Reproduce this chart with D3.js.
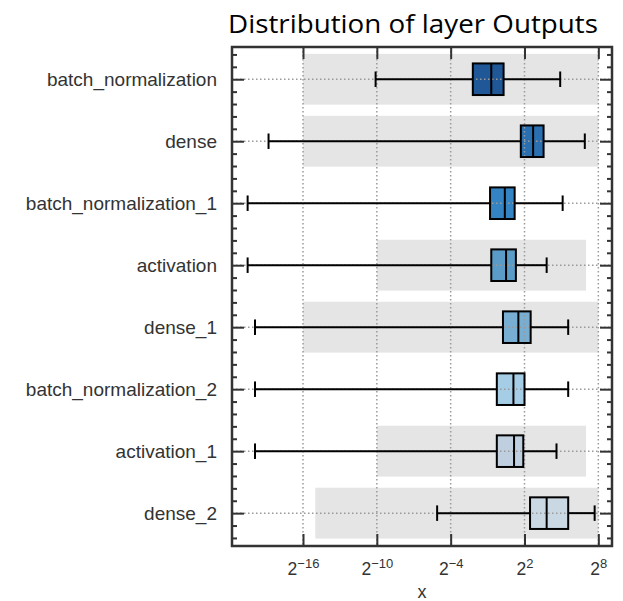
<!DOCTYPE html>
<html>
<head>
<meta charset="utf-8">
<script src="https://cdn.jsdelivr.net/npm/d3@7"></script>
<style>
  body { margin: 0; background: #fff; }
  svg { display: block; }
</style>
</head>
<body>
<div id="chart"></div>
<script>
// layer names, top to bottom
var layers = ["batch_normalization", "dense", "batch_normalization_1", "activation",
              "dense_1", "batch_normalization_2", "activation_1", "dense_2"];

// box stats as log2 exponents
var whiskerLo = [-10.1, -18.8, -20.5, -20.5, -19.9, -19.9, -19.9, -5.1];
var q1        = [-2.2,   1.7,  -0.8,  -0.7,   0.25, -0.25, -0.25,  2.45];
var median    = [-0.7,   2.7,   0.4,   0.5,   1.5,   1.1,   1.15,  3.8];
var q3        = [ 0.3,   3.55,  1.2,   1.3,   2.5,   2.0,   1.9,   5.55];
var whiskerHi = [ 4.9,   6.9,   5.1,   3.8,   5.55,  5.55,  4.6,   7.7];

// grey range band behind each row (log2 exponents), null = none
var bandLo = [-16, -16, null, -10, -16, null, -10, -15];
var bandHi = [  8,   8, null,   7,   8, null,   7,   8];

var boxColors = ["#1f5797", "#2a6fb0", "#3484c4", "#5a9bc8",
                 "#78aed1", "#a5cde6", "#bfcfe0", "#cad8e4"];

var tickExps = [-16, -10, -4, 2, 8];

function render_chart() {
  var width = 623, height = 601;
  var pl = 232, pr = 612, pt = 47, pb = 546;

  var svg = d3.select("#chart").append("svg")
      .attr("width", width)
      .attr("height", height)
      .style("font-family", "'Liberation Sans', Arial, sans-serif");

  var p2 = function(e) { return Math.pow(2, e); };

  var x = d3.scaleLog().base(2)
      .domain([p2(-21.77), p2(9.11)])
      .range([pl, pr]);

  var y = d3.scaleLinear()
      .domain([-0.52, 7.53])
      .range([pt, pb]);

  // title
  svg.append("text")
      .attr("x", 413)
      .attr("y", 33)
      .attr("text-anchor", "middle")
      .attr("textLength", 370)
      .attr("lengthAdjust", "spacingAndGlyphs")
      .style("font-family", "'Open Sans', 'Noto Sans', sans-serif")
      .style("font-size", "25px")
      .style("fill", "#000")
      .text("Distribution of layer Outputs");

  var g = svg.append("g");

  // grey bands
  g.append("g").selectAll("rect")
    .data(d3.range(layers.length).filter(function(i) { return bandLo[i] !== null; }))
    .enter().append("rect")
      .attr("x", function(i) { return x(p2(bandLo[i])); })
      .attr("width", function(i) { return x(p2(bandHi[i])) - x(p2(bandLo[i])); })
      .attr("y", function(i) { return y(i - 0.41); })
      .attr("height", y(0.41) - y(-0.41))
      .attr("fill", "#e5e5e5");

  // box fills
  g.append("g").selectAll("rect")
    .data(d3.range(layers.length))
    .enter().append("rect")
      .attr("x", function(i) { return x(p2(q1[i])); })
      .attr("width", function(i) { return x(p2(q3[i])) - x(p2(q1[i])); })
      .attr("y", function(i) { return y(i - 0.255); })
      .attr("height", y(0.255) - y(-0.255))
      .attr("fill", function(i) { return boxColors[i]; });

  // dotted grid
  var grid = g.append("g")
      .attr("stroke", "#9a9a9a")
      .attr("stroke-width", 1.5)
      .attr("stroke-dasharray", "1.5,2.5");
  grid.selectAll(".gx").data(tickExps).enter().append("line")
      .attr("x1", function(e) { return x(p2(e)); })
      .attr("x2", function(e) { return x(p2(e)); })
      .attr("y1", pt).attr("y2", pb);
  grid.selectAll(".gy").data(d3.range(layers.length)).enter().append("line")
      .attr("x1", pl).attr("x2", pr)
      .attr("y1", function(i) { return y(i); })
      .attr("y2", function(i) { return y(i); });

  // whiskers
  var wg = g.append("g").attr("stroke", "#000").attr("stroke-width", 2);
  layers.forEach(function(name, i) {
    var cy = y(i);
    wg.append("line")
      .attr("x1", x(p2(whiskerLo[i]))).attr("x2", x(p2(q1[i])))
      .attr("y1", cy).attr("y2", cy);
    wg.append("line")
      .attr("x1", x(p2(q3[i]))).attr("x2", x(p2(whiskerHi[i])))
      .attr("y1", cy).attr("y2", cy);
    [whiskerLo[i], whiskerHi[i]].forEach(function(e) {
      wg.append("line")
        .attr("x1", x(p2(e))).attr("x2", x(p2(e)))
        .attr("y1", y(i - 0.125)).attr("y2", y(i + 0.125));
    });
  });

  // box outlines
  g.append("g").selectAll("rect")
    .data(d3.range(layers.length))
    .enter().append("rect")
      .attr("x", function(i) { return x(p2(q1[i])); })
      .attr("width", function(i) { return x(p2(q3[i])) - x(p2(q1[i])); })
      .attr("y", function(i) { return y(i - 0.255); })
      .attr("height", y(0.255) - y(-0.255))
      .attr("fill", "none")
      .attr("stroke", "#000")
      .attr("stroke-width", 2);

  // medians
  g.append("g").selectAll("line")
    .data(d3.range(layers.length))
    .enter().append("line")
      .attr("x1", function(i) { return x(p2(median[i])); })
      .attr("x2", function(i) { return x(p2(median[i])); })
      .attr("y1", function(i) { return y(i - 0.255); })
      .attr("y2", function(i) { return y(i + 0.255); })
      .attr("stroke", "#000")
      .attr("stroke-width", 2);

  // x axes (ticks inward, top and bottom)
  var xb = svg.append("g")
      .attr("transform", "translate(0," + pb + ")")
      .call(d3.axisBottom(x).tickValues(tickExps.map(p2)).tickSize(-12).tickFormat(""));
  svg.append("g")
      .attr("transform", "translate(0," + pt + ")")
      .call(d3.axisTop(x).tickValues(tickExps.map(p2)).tickSize(-12).tickFormat(""));

  xb.selectAll(".tick text").each(function(d) {
    var t = d3.select(this);
    var e = Math.round(Math.log2(d));
    t.attr("y", 29).attr("dy", 0)
      .style("font-size", "17.5px").attr("fill", "#333");
    t.append("tspan").text("2");
    t.append("tspan")
      .attr("dy", -7)
      .style("font-size", "13px")
      .text(e < 0 ? "\u2212" + Math.abs(e) : String(e));
  });

  // y axes: major at rows, minor every 0.2
  var minor = d3.range(-0.4, 7.41, 0.2).filter(function(v) {
    return Math.abs(v - Math.round(v)) > 0.05;
  });
  var ylAxis = svg.append("g")
      .attr("transform", "translate(" + pl + ",0)")
      .call(d3.axisLeft(y).tickValues(d3.range(layers.length)).tickSize(-12)
        .tickFormat(function(i) { return layers[i]; }));
  ylAxis.selectAll(".tick text")
      .attr("x", -15)
      .style("font-size", "19px")
      .attr("fill", "#333");
  svg.append("g")
      .attr("transform", "translate(" + pl + ",0)")
      .call(d3.axisLeft(y).tickValues(minor).tickSize(-5).tickFormat(""));
  svg.append("g")
      .attr("transform", "translate(" + pr + ",0)")
      .call(d3.axisRight(y).tickValues(d3.range(layers.length)).tickSize(-12).tickFormat(""));
  svg.append("g")
      .attr("transform", "translate(" + pr + ",0)")
      .call(d3.axisRight(y).tickValues(minor).tickSize(-5).tickFormat(""));

  svg.selectAll(".domain").remove();
  svg.selectAll(".tick line").attr("stroke", "#333").attr("stroke-width", 2);

  // frame
  svg.append("rect")
      .attr("x", pl).attr("y", pt)
      .attr("width", pr - pl).attr("height", pb - pt)
      .attr("fill", "none")
      .attr("stroke", "#333")
      .attr("stroke-width", 2.5);

  // x label
  svg.append("text")
      .attr("x", (pl + pr) / 2)
      .attr("y", 598)
      .attr("text-anchor", "middle")
      .style("font-size", "18px")
      .attr("fill", "#333")
      .text("x");
}

render_chart();
</script>
</body>
</html>
